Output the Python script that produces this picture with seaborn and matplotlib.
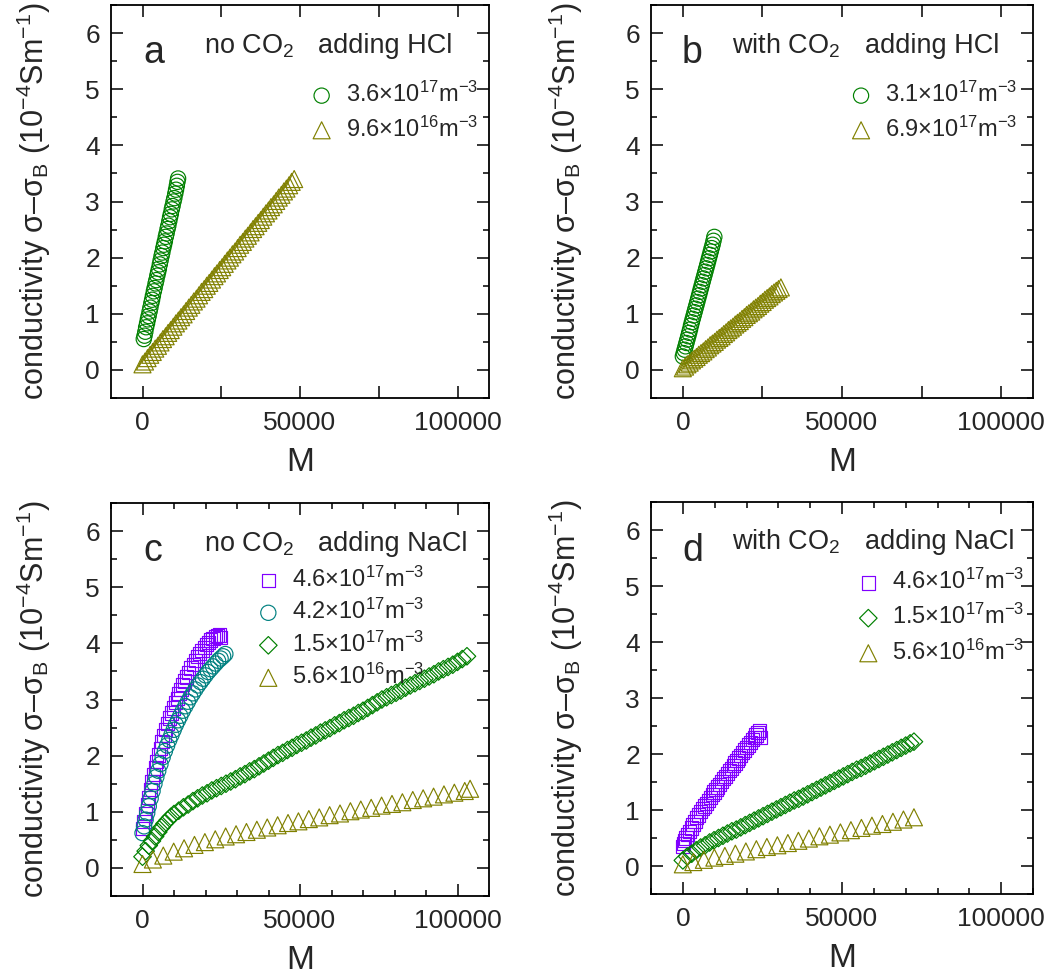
import matplotlib
matplotlib.use('Agg')
import matplotlib.pyplot as plt
import seaborn as sns
from matplotlib.ticker import MultipleLocator

sns.set_style('ticks')
plt.rcParams['font.family'] = ['Liberation Sans', 'DejaVu Sans']
plt.rcParams['mathtext.fontset'] = 'custom'
plt.rcParams['mathtext.rm'] = 'Liberation Sans'
plt.rcParams['mathtext.it'] = 'Liberation Sans:italic'
plt.rcParams['mathtext.bf'] = 'Liberation Sans:bold'

GREEN = '#008000'
OLIVE = '#808000'
VIOLET = '#8000FF'
TEAL = '#008080'

# ---------------- data ----------------
# panel a : no CO2, adding HCl
a_circ_x = [400, 650, 900, 1150, 1450, 1700, 1950, 2250, 2500, 2800, 3050, 3300, 3600, 3850, 4150, 4400,
            4700, 4950, 5200, 5500, 5750, 6050, 6300, 6600, 6850, 7100, 7400, 7650, 7950, 8200, 8500, 8750,
            9000, 9300, 9550, 9850, 10100, 10400, 10650, 10900, 11100, 11300]
a_circ_y = [0.55, 0.61, 0.68, 0.76, 0.83, 0.90, 0.96, 1.04, 1.11, 1.19, 1.25, 1.32, 1.40, 1.46, 1.54, 1.60,
            1.68, 1.74, 1.80, 1.88, 1.95, 2.03, 2.09, 2.17, 2.23, 2.29, 2.37, 2.43, 2.51, 2.57, 2.65, 2.72,
            2.78, 2.86, 2.92, 3.00, 3.06, 3.14, 3.21, 3.28, 3.35, 3.41]
a_tri_x = [0, 800, 1600, 2450, 3250, 4050, 4900, 5700, 6500, 7350, 8150, 8950, 9800, 10600, 11400, 12250,
           13050, 13850, 14700, 15500, 16300, 17150, 17950, 18750, 19600, 20400, 21200, 22050, 22850, 23650,
           24500, 25300, 26100, 26950, 27750, 28550, 29400, 30200, 31000, 31850, 32650, 33450, 34300, 35100,
           35900, 36750, 37550, 38350, 39200, 40000, 40800, 41650, 42450, 43250, 44100, 44900, 45700, 46550,
           47350, 48150]
a_tri_y = [0.10, 0.15, 0.21, 0.27, 0.32, 0.38, 0.43, 0.49, 0.55, 0.60, 0.66, 0.71, 0.77, 0.83, 0.88, 0.94,
           0.99, 1.05, 1.11, 1.16, 1.22, 1.27, 1.33, 1.39, 1.44, 1.50, 1.55, 1.61, 1.67, 1.72, 1.78, 1.83,
           1.89, 1.95, 2.00, 2.06, 2.11, 2.17, 2.23, 2.28, 2.34, 2.39, 2.45, 2.51, 2.56, 2.62, 2.67, 2.73,
           2.79, 2.84, 2.90, 2.95, 3.01, 3.07, 3.12, 3.18, 3.23, 3.29, 3.35, 3.40]
a_labels = ['3.6×10$^{\\mathregular{17}}$m$^{\\mathregular{-3}}$',
            '9.6×10$^{\\mathregular{16}}$m$^{\\mathregular{-3}}$']

# panel b : with CO2, adding HCl
b_circ_x = [0, 280, 560, 850, 1130, 1410, 1700, 1980, 2260, 2550, 2830, 3110, 3400, 3680, 3960, 4250, 4530,
            4810, 5100, 5380, 5660, 5950, 6230, 6510, 6800, 7080, 7360, 7650, 7930, 8210, 8500, 8780, 9060,
            9350, 9630, 9900]
b_circ_y = [0.24, 0.30, 0.36, 0.42, 0.48, 0.54, 0.60, 0.66, 0.72, 0.79, 0.85, 0.91, 0.97, 1.03, 1.09, 1.15,
            1.21, 1.27, 1.33, 1.39, 1.45, 1.51, 1.57, 1.63, 1.69, 1.75, 1.81, 1.87, 1.93, 1.99, 2.05, 2.11,
            2.17, 2.23, 2.30, 2.37]
b_tri_x = [0, 700, 1430, 2150, 2860, 3580, 4300, 5010, 5730, 6440, 7160, 7880, 8590, 9310, 10020, 10740,
           11460, 12170, 12890, 13600, 14320, 15040, 15750, 16470, 17180, 17900, 18620, 19330, 20050, 20760,
           21480, 22200, 22910, 23630, 24340, 25060, 25780, 26490, 27210, 27920, 28640, 29360, 30070, 30800]
b_tri_y = [0.03, 0.06, 0.10, 0.13, 0.17, 0.20, 0.23, 0.27, 0.30, 0.33, 0.37, 0.40, 0.44, 0.47, 0.50, 0.54,
           0.57, 0.60, 0.64, 0.67, 0.71, 0.74, 0.77, 0.81, 0.84, 0.87, 0.91, 0.94, 0.98, 1.01, 1.04, 1.08,
           1.11, 1.14, 1.18, 1.21, 1.25, 1.28, 1.31, 1.35, 1.38, 1.41, 1.44, 1.47]
b_labels = ['3.1×10$^{\\mathregular{17}}$m$^{\\mathregular{-3}}$',
            '6.9×10$^{\\mathregular{17}}$m$^{\\mathregular{-3}}$']

# panel c : no CO2, adding NaCl
c_sq_x = [0, 500, 1000, 1500, 2000, 2500, 3000, 3500, 4000, 4500, 5000, 5600, 6200, 6800, 7400, 8000, 8600,
          9200, 9800, 10400, 11000, 11600, 12200, 12800, 13400, 14000, 14700, 15400, 16100, 16800, 17500,
          18200, 18900, 19600, 20300, 21000, 21700, 22400, 23100, 23800, 24400, 24800]
c_sq_y = [0.70, 0.83, 0.97, 1.12, 1.26, 1.40, 1.53, 1.66, 1.78, 1.90, 2.01, 2.13, 2.25, 2.36, 2.47, 2.57,
          2.67, 2.76, 2.85, 2.94, 3.02, 3.10, 3.18, 3.26, 3.33, 3.40, 3.48, 3.56, 3.63, 3.70, 3.76, 3.82,
          3.88, 3.93, 3.98, 4.02, 4.06, 4.09, 4.12, 4.14, 4.15, 4.10]
c_circ_x = [0, 500, 1000, 1500, 2000, 2600, 3200, 3800, 4400, 5000, 5700, 6400, 7100, 7800, 8500, 9200,
            9900, 10600, 11300, 12000, 12800, 13600, 14400, 15200, 16000, 16800, 17600, 18400, 19200, 20000,
            20800, 21600, 22400, 23200, 24000, 24800, 25600, 26300]
c_circ_y = [0.62, 0.74, 0.86, 0.98, 1.10, 1.24, 1.37, 1.50, 1.62, 1.73, 1.85, 1.97, 2.08, 2.18, 2.28, 2.37,
            2.46, 2.55, 2.63, 2.71, 2.80, 2.88, 2.96, 3.04, 3.11, 3.18, 3.25, 3.31, 3.37, 3.43, 3.49, 3.54,
            3.59, 3.64, 3.69, 3.73, 3.77, 3.81]
c_dia_x = [0, 1000, 2000, 3000, 4000, 5000, 6000, 7000, 8000, 9000, 10000, 11500, 13000, 14500, 16000,
           17500, 19000, 20500, 22000, 23500, 25000, 26500, 28000, 29500, 31000, 32500, 34000, 35500, 37000,
           38500, 40000, 41500, 43000, 44500, 46000, 47500, 49000, 50500, 52000, 53500, 55000, 56500, 58000,
           59500, 61000, 62500, 64000, 65500, 67000, 68500, 70000, 71500, 73000, 74500, 76000, 77500, 79000,
           80500, 82000, 83500, 85000, 86500, 88000, 89500, 91000, 92500, 94000, 95500, 97000, 98500, 100000,
           101500, 103000]
c_dia_y = [0.20, 0.30, 0.40, 0.48, 0.56, 0.64, 0.72, 0.79, 0.85, 0.91, 0.96, 1.02, 1.08, 1.13, 1.19, 1.24,
           1.29, 1.33, 1.38, 1.42, 1.46, 1.50, 1.54, 1.58, 1.63, 1.67, 1.72, 1.76, 1.81, 1.86, 1.91, 1.96,
           2.01, 2.05, 2.10, 2.14, 2.19, 2.23, 2.27, 2.32, 2.36, 2.41, 2.45, 2.49, 2.54, 2.58, 2.63, 2.67,
           2.71, 2.76, 2.80, 2.85, 2.90, 2.95, 3.00, 3.04, 3.08, 3.12, 3.16, 3.21, 3.25, 3.29, 3.33, 3.37,
           3.41, 3.45, 3.50, 3.54, 3.58, 3.62, 3.67, 3.72, 3.77]
c_tri_x = [0, 3300, 6600, 9900, 13200, 16500, 19800, 23100, 26400, 29700, 33000, 36300, 39600, 42900, 46200,
           49500, 52800, 56100, 59400, 62700, 66000, 69300, 72600, 75900, 79200, 82500, 85800, 89100, 92400,
           95700, 99000, 102300, 104000]
c_tri_y = [0.07, 0.15, 0.22, 0.29, 0.35, 0.41, 0.46, 0.51, 0.56, 0.60, 0.64, 0.68, 0.72, 0.76, 0.80, 0.83,
           0.87, 0.90, 0.94, 0.97, 1.01, 1.04, 1.07, 1.11, 1.14, 1.17, 1.21, 1.24, 1.27, 1.31, 1.34, 1.37, 1.41]
c_labels = ['4.6×10$^{\\mathregular{17}}$m$^{\\mathregular{-3}}$',
            '4.2×10$^{\\mathregular{17}}$m$^{\\mathregular{-3}}$',
            '1.5×10$^{\\mathregular{17}}$m$^{\\mathregular{-3}}$',
            '5.6×10$^{\\mathregular{16}}$m$^{\\mathregular{-3}}$']

# panel d : with CO2, adding NaCl
d_sq_x = [0, 300, 600, 1000, 1500, 2000, 2600, 3200, 3800, 4400, 5000, 5600, 6200, 6800, 7400, 8000, 8600,
          9200, 9800, 10400, 11000, 11600, 12200, 12800, 13400, 14000, 14600, 15200, 15800, 16400, 17000,
          17600, 18200, 18800, 19400, 20000, 20600, 21200, 21800, 22400, 23000, 23600, 24100, 24300]
d_sq_y = [0.35, 0.40, 0.45, 0.50, 0.56, 0.62, 0.68, 0.74, 0.80, 0.86, 0.91, 0.97, 1.02, 1.07, 1.12, 1.17,
          1.22, 1.27, 1.32, 1.37, 1.41, 1.46, 1.51, 1.56, 1.60, 1.65, 1.70, 1.74, 1.79, 1.84, 1.88, 1.93,
          1.98, 2.02, 2.07, 2.12, 2.16, 2.21, 2.26, 2.30, 2.34, 2.38, 2.42, 2.30]
d_dia_x = [0, 1400, 2800, 4200, 5600, 7000, 8400, 9800, 11200, 12600, 14000, 15400, 16800, 18200, 19600,
           21000, 22400, 23800, 25200, 26600, 28000, 29400, 30800, 32200, 33600, 35000, 36400, 37800, 39200,
           40600, 42000, 43400, 44800, 46200, 47600, 49000, 50400, 51800, 53200, 54600, 56000, 57400, 58800,
           60200, 61600, 63000, 64400, 65800, 67200, 68600, 70000, 71400, 72600]
d_dia_y = [0.10, 0.17, 0.22, 0.28, 0.33, 0.37, 0.42, 0.46, 0.50, 0.54, 0.58, 0.62, 0.65, 0.69, 0.73, 0.77,
           0.81, 0.85, 0.89, 0.93, 0.97, 1.01, 1.05, 1.09, 1.13, 1.17, 1.20, 1.24, 1.28, 1.32, 1.36, 1.40,
           1.44, 1.48, 1.52, 1.56, 1.60, 1.64, 1.68, 1.72, 1.75, 1.79, 1.83, 1.87, 1.91, 1.95, 1.99, 2.03,
           2.07, 2.11, 2.15, 2.19, 2.22]
d_tri_x = [0, 3300, 6600, 9900, 13200, 16500, 19800, 23100, 26400, 29700, 33000, 36300, 39600, 42900, 46200,
           49500, 52800, 56100, 59400, 62700, 66000, 69300, 72600]
d_tri_y = [0.03, 0.07, 0.11, 0.15, 0.18, 0.22, 0.26, 0.30, 0.34, 0.37, 0.41, 0.45, 0.49, 0.53, 0.56, 0.60,
           0.64, 0.68, 0.72, 0.75, 0.79, 0.83, 0.87]
d_labels = ['4.6×10$^{\\mathregular{17}}$m$^{\\mathregular{-3}}$',
            '1.5×10$^{\\mathregular{17}}$m$^{\\mathregular{-3}}$',
            '5.6×10$^{\\mathregular{16}}$m$^{\\mathregular{-3}}$']

panel_letters = ['a', 'b', 'c', 'd']
panel_co2 = ['no CO$_{\\mathregular{2}}$', 'with CO$_{\\mathregular{2}}$',
             'no CO$_{\\mathregular{2}}$', 'with CO$_{\\mathregular{2}}$']
panel_salt = ['adding HCl', 'adding HCl', 'adding NaCl', 'adding NaCl']

YLABEL = 'conductivity σ–σ$_{\\mathregular{B}}$ (10$^{\\mathregular{-4}}$Sm$^{\\mathregular{-1}}$)'

# ---------------- figure ----------------
W, H = 1055, 977
fig = plt.figure(figsize=(W / 100, H / 100), dpi=100)

# axes boxes in pixels: left, top, right, bottom
boxes = [(111, 5, 489, 398), (651, 5, 1033, 398), (111, 503, 489, 896), (651, 502, 1033, 894)]
axes = []
for (l, t, r, b) in boxes:
    axes.append(fig.add_axes([l / W, 1 - b / H, (r - l) / W, (b - t) / H]))

TS = 19  # tick label size
LS = 17  # legend size
SIZES = {'o': 120, '^': 150, 's': 90, 'D': 80}


def scatter(ax, x, y, marker, color, label):
    sns.scatterplot(x=x, y=y, ax=ax, marker=marker, s=SIZES[marker], facecolor='none',
                    edgecolor=color, linewidth=0.85, label=label, legend=False, zorder=3)


scatter(axes[0], a_circ_x, a_circ_y, 'o', GREEN, a_labels[0])
scatter(axes[0], a_tri_x, a_tri_y, '^', OLIVE, a_labels[1])
scatter(axes[1], b_circ_x, b_circ_y, 'o', GREEN, b_labels[0])
scatter(axes[1], b_tri_x, b_tri_y, '^', OLIVE, b_labels[1])
scatter(axes[2], c_sq_x, c_sq_y, 's', VIOLET, c_labels[0])
scatter(axes[2], c_circ_x, c_circ_y, 'o', TEAL, c_labels[1])
scatter(axes[2], c_dia_x, c_dia_y, 'D', GREEN, c_labels[2])
scatter(axes[2], c_tri_x, c_tri_y, '^', OLIVE, c_labels[3])
scatter(axes[3], d_sq_x, d_sq_y, 's', VIOLET, d_labels[0])
scatter(axes[3], d_dia_x, d_dia_y, 'D', GREEN, d_labels[1])
scatter(axes[3], d_tri_x, d_tri_y, '^', OLIVE, d_labels[2])

ylab_x = [-0.204, -0.223, -0.204, -0.223]
leg_anchor = [(0.526, 0.805), (0.519, 0.805), (0.385, 0.839), (0.538, 0.829)]
leg_space = [0.40, 0.40, 0.31, 0.42]

for i, ax in enumerate(axes):
    ax.set_xlim(-10000, 110000)
    ax.set_ylim(-0.5, 6.5)
    ax.xaxis.set_major_locator(MultipleLocator(50000))
    if i < 2:
        ax.xaxis.set_minor_locator(MultipleLocator(25000))
    else:
        ax.xaxis.set_minor_locator(MultipleLocator(10000))
    ax.yaxis.set_major_locator(MultipleLocator(1))
    ax.yaxis.set_minor_locator(MultipleLocator(0.5))
    ax.tick_params(which='both', direction='in', top=True, right=True, width=1.1, color='black')
    ax.tick_params(which='major', length=8.5)
    ax.tick_params(which='minor', length=4.5)
    if i < 2:
        ax.tick_params(axis='x', which='minor', length=8.5)
    ax.tick_params(axis='x', which='major', labelsize=TS, pad=9)
    ax.tick_params(axis='y', which='major', labelsize=TS, pad=8)
    for sp in ax.spines.values():
        sp.set_linewidth(1.3)
        sp.set_color('black')
    ax.set_xlabel('M', fontsize=24, va='center')
    ax.xaxis.set_label_coords(0.5, -0.165)
    ax.set_ylabel(YLABEL, fontsize=22, va='center')
    ax.yaxis.set_label_coords(ylab_x[i], 0.5)
    ax.legend(loc='upper left', bbox_to_anchor=leg_anchor[i], frameon=False, fontsize=LS,
              handlelength=1.0, handletextpad=0.52, labelspacing=leg_space[i], borderpad=0,
              borderaxespad=0)

# panel annotations (pixel positions)
letter_pos = [(143, 63), (682, 63), (143, 561), (682, 561)]
co2_pos = [(204, 53), (732, 53), (204, 551), (732, 549)]
salt_pos = [(318, 53), (865, 53), (318, 551), (865, 549)]
for i in range(4):
    fig.text(letter_pos[i][0] / W, 1 - letter_pos[i][1] / H, panel_letters[i], fontsize=27,
             ha='left', va='baseline')
    fig.text(co2_pos[i][0] / W, 1 - co2_pos[i][1] / H, panel_co2[i], fontsize=19.5,
             ha='left', va='baseline')
    fig.text(salt_pos[i][0] / W, 1 - salt_pos[i][1] / H, panel_salt[i], fontsize=19.5,
             ha='left', va='baseline')

fig.savefig('out.png', dpi=100)
